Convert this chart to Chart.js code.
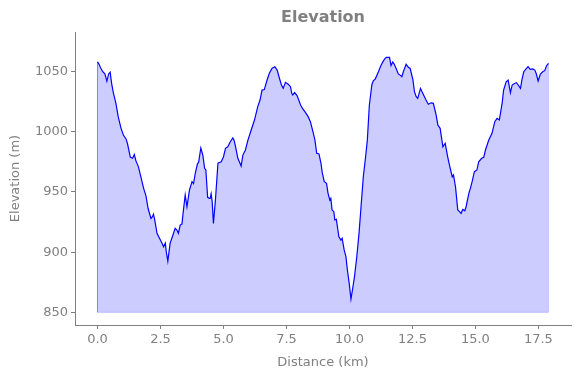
<!DOCTYPE html>
<html>
<head>
<meta charset="utf-8">
<script src="https://cdn.jsdelivr.net/npm/chart.js@4/dist/chart.umd.min.js"></script>
<style>
  html, body { margin: 0; padding: 0; background: #fff; }
  #wrap { width: 580px; height: 378px; position: relative; }
</style>
</head>
<body>
<div id="wrap"><canvas id="elev" width="580" height="378"></canvas></div>
<script>
// distance along the route (km) and elevation (m)
var DIST = [
  0.00, 0.06, 0.11, 0.20, 0.29, 0.37, 0.44, 0.50, 0.56, 0.63, 0.73, 0.82, 0.93, 1.03, 1.13, 1.19,
  1.30, 1.39, 1.46, 1.52, 1.62, 1.72, 1.83, 1.92, 2.01, 2.12, 2.18, 2.22, 2.27, 2.36, 2.46, 2.56,
  2.62, 2.69, 2.73, 2.79, 2.88, 2.99, 3.08, 3.15, 3.21, 3.28, 3.35, 3.41, 3.48, 3.55, 3.65, 3.75,
  3.81, 3.88, 3.97, 4.01, 4.10, 4.18, 4.25, 4.30, 4.37, 4.44, 4.47, 4.51, 4.55, 4.60, 4.68, 4.78,
  4.91, 5.00, 5.08, 5.17, 5.27, 5.37, 5.42, 5.48, 5.57, 5.63, 5.70, 5.77, 5.87, 5.97, 6.10, 6.23,
  6.36, 6.45, 6.53, 6.62, 6.73, 6.82, 6.93, 7.04, 7.13, 7.22, 7.30, 7.37, 7.46, 7.57, 7.66, 7.71,
  7.75, 7.82, 7.92, 8.06, 8.15, 8.25, 8.36, 8.45, 8.55, 8.63, 8.70, 8.79, 8.87, 8.92, 9.00, 9.09,
  9.15, 9.22, 9.26, 9.31, 9.38, 9.42, 9.48, 9.58, 9.66, 9.71, 9.79, 9.86, 9.92, 9.99, 10.06, 10.13,
  10.20, 10.29, 10.38, 10.46, 10.55, 10.64, 10.71, 10.79, 10.89, 10.95, 11.02, 11.15, 11.25, 11.33, 11.42, 11.48,
  11.59, 11.65, 11.72, 11.78, 11.85, 11.94, 12.01, 12.08, 12.14, 12.25, 12.34, 12.41, 12.52, 12.58, 12.65, 12.71,
  12.82, 12.91, 13.04, 13.13, 13.24, 13.33, 13.44, 13.51, 13.60, 13.71, 13.80, 13.90, 13.97, 14.08, 14.13, 14.21,
  14.30, 14.37, 14.43, 14.50, 14.58, 14.63, 14.74, 14.80, 14.87, 14.96, 15.06, 15.13, 15.25, 15.33, 15.40, 15.53,
  15.66, 15.77, 15.86, 15.95, 16.06, 16.12, 16.22, 16.30, 16.39, 16.46, 16.55, 16.63, 16.70, 16.79, 16.85, 16.92,
  17.01, 17.09, 17.18, 17.28, 17.36, 17.42, 17.49, 17.58, 17.67, 17.75, 17.82, 17.90
];
var ELEV = [
  1058, 1056, 1053.5, 1050, 1048, 1042, 1048, 1049.5, 1040, 1032, 1023.5, 1012.5, 1003, 997, 994, 990,
  979, 978, 981, 976, 971, 962.5, 953, 947, 936, 928, 929.5, 931.5, 926.7, 915.6, 911.5, 907.3,
  904.5, 907.5, 900, 892.5, 907.3, 914, 919.8, 918.4, 915.6, 922.5, 923.3, 935, 947.5, 937.7, 951.6, 958.5,
  957, 965.5, 973.8, 974.3, 986.5, 980.6, 969.6, 968.2, 945.5, 944.7, 944.7, 948.5, 942, 923.9, 943.3, 973.8,
  975, 979.2, 986.2, 987.5, 991.7, 994.8, 993, 987.5, 977.9, 975, 971.5, 980.6, 984.8, 993, 1001.4, 1009.7,
  1020.8, 1026.3, 1034.6, 1035, 1042.9, 1048.5, 1052.7, 1054, 1051.2, 1044.4, 1038.8, 1036, 1041, 1039.4, 1037.4, 1031.9,
  1030.5, 1032.5, 1030, 1022.2, 1018.9, 1016, 1012.5, 1008.3, 1000, 993, 982.1, 981.5, 973.8, 966, 958.5, 957.1,
  948.8, 943.3, 944.7, 935, 933.6, 926.7, 927.2, 912.8, 910, 911.5, 901.8, 896.2, 885, 874, 861, 870,
  879.6, 896, 915.6, 937.7, 962.6, 979, 993, 1022, 1039, 1042.5, 1043.5, 1049.8, 1055, 1058.2, 1061, 1061.8,
  1061.8, 1055, 1058, 1056, 1052.7, 1048, 1047, 1045.7, 1049.8, 1056, 1053.5, 1052.5, 1043, 1033.2, 1029, 1027.7,
  1036, 1032, 1026.3, 1022.8, 1024, 1023.6, 1014, 1005.6, 1002.8, 987.5, 990.4, 979.2, 972.3, 962.6, 964, 954.3,
  935, 933.6, 932.2, 935.5, 934.4, 937.7, 948.8, 953, 958.5, 966.8, 968.2, 975, 977.9, 978.7, 984.8, 993.1,
  998.7, 1008.3, 1011.1, 1009.7, 1023.6, 1034.6, 1041.5, 1042.9, 1032.4, 1038.8, 1040.1, 1040.7, 1038.8, 1036, 1043.5, 1049.8,
  1052.1, 1054, 1051.8, 1052.1, 1051.2, 1047.9, 1042.1, 1047.9, 1049.8, 1050.7, 1054.6, 1056.8
];
var BASE = 850;
var X_TICKS = [0, 2.5, 5, 7.5, 10, 12.5, 15, 17.5];
var Y_TICKS = [850, 900, 950, 1000, 1050];

var GREY = "#808080";
var FONT = "'DejaVu Sans', sans-serif";

var linePts = DIST.map(function(d, i) { return { x: d, y: ELEV[i] }; });
var last = DIST.length - 1;
// outline of the filled area (left, bottom, right edges)
var edgePts = [
  { x: DIST[0], y: ELEV[0] }, { x: DIST[0], y: BASE },
  { x: DIST[last], y: BASE }, { x: DIST[last], y: ELEV[last] }
];

// title centred over the plot area, like matplotlib does
var titlePlugin = {
  id: "axTitle",
  afterDraw: function(chart) {
    var ca = chart.chartArea, ctx = chart.ctx;
    ctx.save();
    ctx.font = "bold 16px " + FONT;
    ctx.fillStyle = GREY;
    ctx.textAlign = "center";
    ctx.textBaseline = "middle";
    ctx.fillText("Elevation", (ca.left + ca.right) / 2, 18);
    ctx.restore();
  }
};

new Chart(document.getElementById("elev").getContext("2d"), {
  type: "line",
  data: {
    datasets: [
      {
        data: edgePts,
        borderColor: "rgba(0,0,255,0.2)",
        borderWidth: 1,
        pointRadius: 0,
        fill: false,
        order: 2
      },
      {
        data: linePts,
        borderColor: "#0000ff",
        borderWidth: 1.2,
        backgroundColor: "rgba(0,0,255,0.2)",
        pointRadius: 0,
        tension: 0,
        fill: { value: BASE },
        order: 1
      }
    ]
  },
  options: {
    responsive: false,
    animation: false,
    devicePixelRatio: 1,
    layout: { padding: { left: 0, right: 9, top: 32, bottom: 0 } },
    plugins: { legend: { display: false }, tooltip: { enabled: false }, title: { display: false } },
    scales: {
      x: {
        type: "linear",
        min: -0.895,
        max: 18.795,
        afterBuildTicks: function(s) { s.ticks = X_TICKS.map(function(v) { return { value: v }; }); },
        afterFit: function(s) { s.height = 53; },
        border: { display: true, color: GREY, width: 1 },
        grid: { display: true, drawOnChartArea: false, drawTicks: true, tickLength: 4, color: GREY },
        ticks: { color: GREY, font: { family: FONT, size: 13 }, padding: 3, maxRotation: 0, autoSkip: false,
          callback: function(v) { return v.toFixed(1); } },
        title: { display: true, text: "Distance (km)", color: GREY, font: { family: FONT, size: 13 }, padding: { top: 2, bottom: 8 } }
      },
      y: {
        min: 839.5,
        max: 1082.8,
        afterBuildTicks: function(s) { s.ticks = Y_TICKS.map(function(v) { return { value: v }; }); },
        afterFit: function(s) { s.width = 75; },
        border: { display: true, color: GREY, width: 1 },
        grid: { display: true, drawOnChartArea: false, drawTicks: true, tickLength: 4, color: GREY },
        ticks: { color: GREY, font: { family: FONT, size: 13 }, padding: 3, autoSkip: false,
          callback: function(v) { return String(v); } },
        title: { display: true, text: "Elevation (m)", color: GREY, font: { family: FONT, size: 13 }, padding: { top: 8, bottom: 4 } }
      }
    }
  },
  plugins: [titlePlugin]
});
</script>
</body>
</html>
